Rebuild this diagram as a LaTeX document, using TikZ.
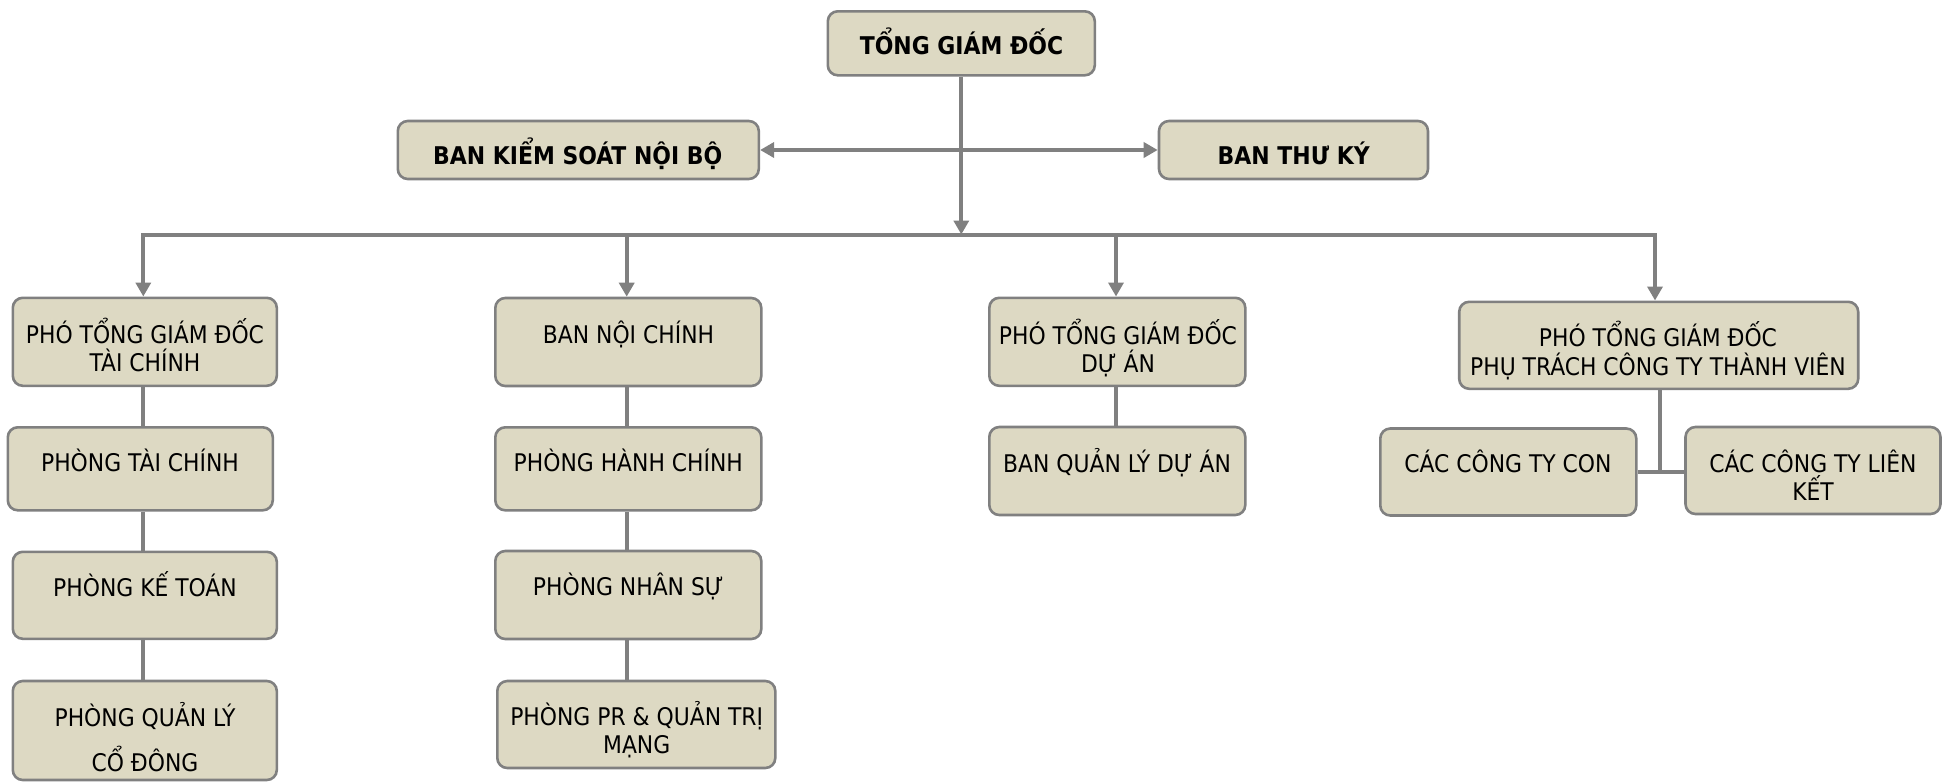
\documentclass[tikz,border=0pt]{standalone}
\usepackage{fontspec}
\setmainfont{DejaVu Sans Condensed}
\usetikzlibrary{arrows.meta}
\definecolor{boxfill}{RGB}{221,217,195}
\definecolor{linegray}{RGB}{128,128,128}
\tikzset{
  orgbox/.style={draw=linegray, line width=2.6pt, fill=boxfill, rounded corners=10pt, inner sep=0pt},
  txt/.style={anchor=base, inner sep=0pt, font=\fontsize{24.3}{28}\selectfont},
  btxt/.style={anchor=base, inner sep=0pt, font=\fontsize{24.4}{28}\selectfont\bfseries},
  conn/.style={draw=linegray, line width=4pt},
  tip/.tip={Triangle[length=14pt,width=15pt]}
}
\begin{document}
\begin{tikzpicture}[x=1pt,y=-1pt]
\useasboundingbox (0,0) rectangle (1946,782);
\clip (0,0) rectangle (1946,782);
% boxes
\node[orgbox, minimum width=267pt, minimum height=64pt] (tgd) at (961.3,43.3) {};
\node[orgbox, minimum width=361pt, minimum height=58pt] (bks) at (578.3,150) {};
\node[orgbox, minimum width=269pt, minimum height=58pt] (btk) at (1293.5,150) {};
\node[orgbox, minimum width=264pt, minimum height=88pt] (ptc) at (144.8,341.8) {};
\node[orgbox, minimum width=265pt, minimum height=83pt] (ptaic) at (140.3,468.8) {};
\node[orgbox, minimum width=264pt, minimum height=87pt] (pkt) at (144.8,595.3) {};
\node[orgbox, minimum width=264pt, minimum height=99pt] (pql) at (144.8,730.5) {};
\node[orgbox, minimum width=266pt, minimum height=88pt] (bnc) at (628.3,342) {};
\node[orgbox, minimum width=266pt, minimum height=83pt] (phc) at (628.3,468.8) {};
\node[orgbox, minimum width=266pt, minimum height=88pt] (pns) at (628.3,595) {};
\node[orgbox, minimum width=278pt, minimum height=87pt] (ppr) at (636.3,724.5) {};
\node[orgbox, minimum width=256pt, minimum height=88pt] (pda) at (1117.3,341.8) {};
\node[orgbox, minimum width=256pt, minimum height=88pt] (bqlda) at (1117.3,471) {};
\node[orgbox, minimum width=399pt, minimum height=87pt] (cttv) at (1658.7,345.3) {};
\node[orgbox, minimum width=256pt, minimum height=87pt] (con) at (1508.3,472) {};
\node[orgbox, minimum width=255pt, minimum height=87pt] (lk) at (1813,470.5) {};
% texts
\node[btxt] (tgdt) at (961.5,54) {TỔNG GIÁM ĐỐC};
\node[btxt] (bkst) at (577.7,164) {BAN KIỂM SOÁT NỘI BỘ};
\node[btxt] (btkt) at (1293.7,164) {BAN THƯ KÝ};
\node[txt] (ptct1) at (145,343.3) {PHÓ TỔNG GIÁM ĐỐC};
\node[txt] (ptct2) at (145,371.7) {TÀI CHÍNH};
\node[txt] (ptaict) at (140,471.7) {PHÒNG TÀI CHÍNH};
\node[txt] (pktt) at (145,596) {PHÒNG KẾ TOÁN};
\node[txt] (pqlt1) at (145,726.7) {PHÒNG QUẢN LÝ};
\node[txt] (pqlt2) at (145,771.7) {CỔ ĐÔNG};
\node[txt] (bnct) at (628.5,343.3) {BAN NỘI CHÍNH};
\node[txt] (phct) at (628.3,471.7) {PHÒNG HÀNH CHÍNH};
\node[txt] (pnst) at (628.3,595) {PHÒNG NHÂN SỰ};
\node[txt] (pprt1) at (636.7,725) {PHÒNG PR \& QUẢN TRỊ};
\node[txt] (pprt2) at (636.7,753.3) {MẠNG};
\node[txt] (pdat1) at (1118,344) {PHÓ TỔNG GIÁM ĐỐC};
\node[txt] (pdat2) at (1118,372.3) {DỰ ÁN};
\node[txt] (bqldat) at (1117,472.3) {BAN QUẢN LÝ DỰ ÁN};
\node[txt] (cttvt1) at (1658,346.7) {PHÓ TỔNG GIÁM ĐỐC};
\node[txt] (cttvt2) at (1658,375.7) {PHỤ TRÁCH CÔNG TY THÀNH VIÊN};
\node[txt] (cont) at (1508,472.7) {CÁC CÔNG TY CON};
\node[txt] (lkt1) at (1813,472.7) {CÁC CÔNG TY LIÊN};
\node[txt] (lkt2) at (1813,500.7) {KẾT};
% connector coordinates
\coordinate (busL) at (143.3,234.5);
\coordinate (bus2) at (626.7,234.5);
\coordinate (bus3) at (1116,234.5);
\coordinate (busR) at (1655,234.5);
\coordinate (c1) at (143.3,0);
\coordinate (c2) at (626.7,0);
\coordinate (c3) at (1116,0);
\coordinate (j4) at (1660,472.3);
% connectors
\draw[conn, line cap=rect] (busL) -- (busR);
\draw[conn, -tip] (tgd.south) -- (tgd.south |- busL);
\draw[conn, tip-tip] (bks.east) -- (btk.west);
\draw[conn, -tip] (busL) -- (busL |- ptc.north);
\draw[conn, -tip] (bus2) -- (bus2 |- bnc.north);
\draw[conn, -tip] (bus3) -- (bus3 |- pda.north);
\draw[conn, -tip] (busR) -- (busR |- cttv.north);
\draw[conn] (c1 |- ptc.south) -- (c1 |- ptaic.north);
\draw[conn] (c1 |- ptaic.south) -- (c1 |- pkt.north);
\draw[conn] (c1 |- pkt.south) -- (c1 |- pql.north);
\draw[conn] (c2 |- bnc.south) -- (c2 |- phc.north);
\draw[conn] (c2 |- phc.south) -- (c2 |- pns.north);
\draw[conn] (c2 |- pns.south) -- (c2 |- ppr.north);
\draw[conn] (c3 |- pda.south) -- (c3 |- bqlda.north);
\draw[conn] (j4 |- cttv.south) -- (j4);
\draw[conn] (con.east |- j4) -- (lk.west |- j4);
\end{tikzpicture}
\end{document}
